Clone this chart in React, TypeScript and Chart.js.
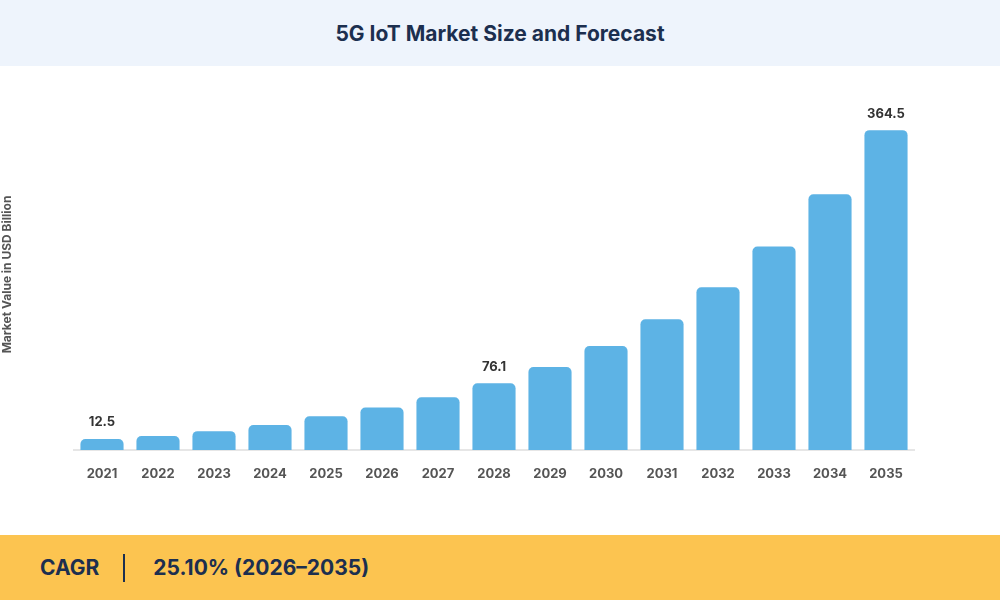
import React, { useEffect, useRef } from "react";
import { Chart, registerables } from "chart.js";
Chart.register(...registerables);

const years = ["2021","2022","2023","2024","2025","2026","2027","2028","2029","2030","2031","2032","2033","2034","2035"];
const values = [12.5, 16.0, 21.5, 28.5, 38.5, 48.5, 60.0, 76.1, 94.5, 118.5, 149.0, 185.5, 232.0, 291.5, 364.5];
const labeledIdx = [0, 7, 14];

const labelPlugin = {
  id: "vals",
  afterDatasetsDraw(chart: any) {
    const ctx = chart.ctx;
    const meta = chart.getDatasetMeta(0);
    ctx.save();
    ctx.font = "bold 13px Inter, 'Noto Sans', sans-serif";
    ctx.fillStyle = "#333";
    ctx.textAlign = "center";
    ctx.textBaseline = "bottom";
    labeledIdx.forEach((i) => {
      const el = meta.data[i];
      ctx.fillText(String(values[i]), el.x, el.y - 10);
    });
    ctx.restore();
  },
};

export default function App() {
  const ref = useRef<HTMLCanvasElement>(null);
  useEffect(() => {
    const c = new Chart(ref.current!, {
      type: "bar",
      data: {
        labels: years,
        datasets: [{
          data: values,
          backgroundColor: "#5DB3E5",
          borderRadius: { topLeft: 5, topRight: 5, bottomLeft: 0, bottomRight: 0 },
          borderSkipped: false,
          categoryPercentage: 1,
          barPercentage: 0.77,
        }],
      },
      options: {
        animation: false,
        responsive: false,
        layout: { padding: { top: 33, right: 86, bottom: 55, left: 0 } },
        plugins: { legend: { display: false }, tooltip: { enabled: false } },
        scales: {
          x: {
            grid: { display: false },
            border: { display: true, color: "#e6e6e6", width: 2 },
            ticks: { color: "#555", font: { family: "Inter, 'Noto Sans', sans-serif", size: 13, weight: "bold" }, padding: 8 },
            afterFit: (s: any) => { s.height = 30; },
          },
          y: {
            min: 0, max: 400,
            grid: { display: false },
            border: { display: false },
            ticks: { display: false },
            title: { display: true, text: "Market Value in USD Billion", color: "#555", font: { family: "Inter, 'Noto Sans', sans-serif", size: 12, weight: "bold" }, padding: 0 },
            afterFit: (s: any) => { s.width = 74; },
          },
        },
      },
      plugins: [labelPlugin],
    } as any);
    return () => c.destroy();
  }, []);
  const font = "Inter, 'Noto Sans', sans-serif";
  return (
    <div style={{ position: "fixed", left: 0, top: 0, width: 1000, height: 600, background: "#fff", fontFamily: font }}>
      <div style={{ position: "absolute", left: 0, top: 0, width: 1000, height: 66, background: "#EEF4FC", display: "flex", alignItems: "center", justifyContent: "center", color: "#1C2F4F", fontWeight: 700, fontSize: 21 }}>
        5G IoT Market Size and Forecast
      </div>
      <canvas ref={ref} width={1000} height={469} style={{ position: "absolute", left: 0, top: 66 }} />
      <div style={{ position: "absolute", left: 0, top: 535, width: 1000, height: 65, background: "#FCC450", display: "flex", alignItems: "center", color: "#1C2F4F", fontWeight: 700, fontSize: 21 }}>
        <span style={{ marginLeft: 40 }}>CAGR</span>
        <span style={{ marginLeft: 24, width: 2, height: 28, background: "#1C2F4F" }} />
        <span style={{ marginLeft: 28 }}>25.10% (2026–2035)</span>
      </div>
    </div>
  );
}
